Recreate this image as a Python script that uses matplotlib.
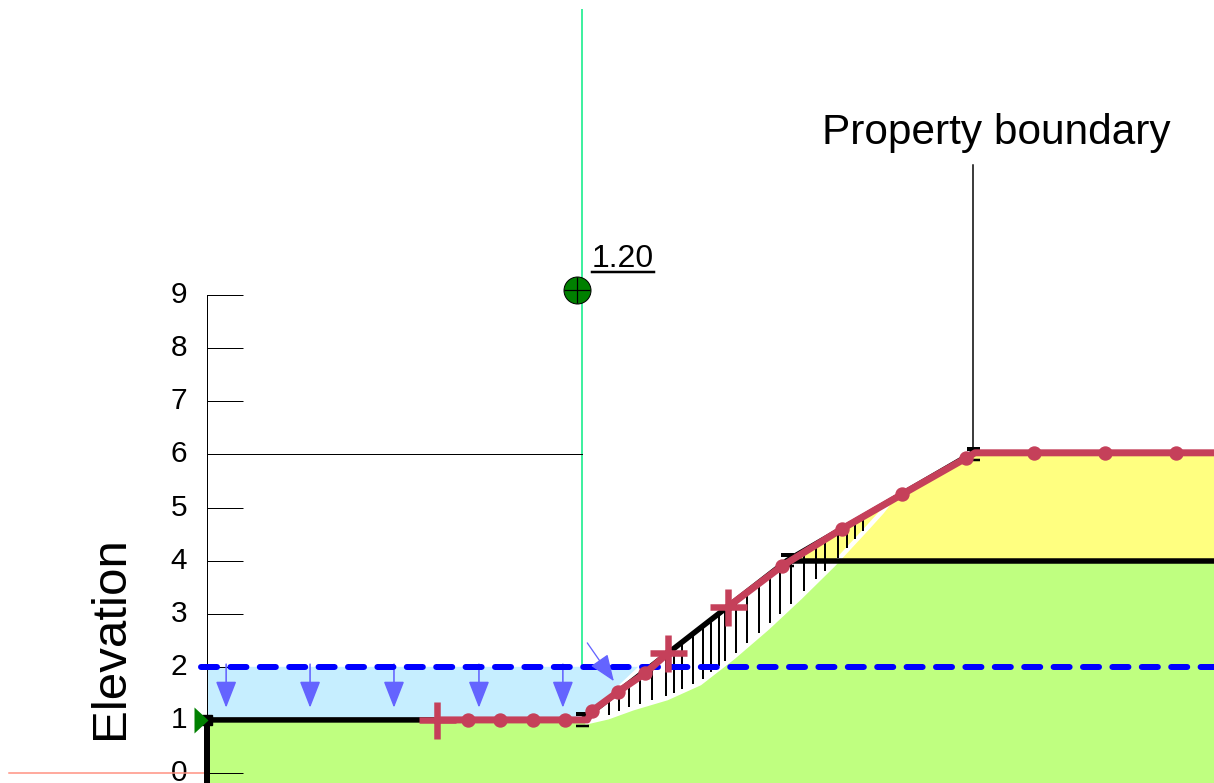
import numpy as np
import matplotlib
matplotlib.use("Agg")
import matplotlib.pyplot as plt
from matplotlib.patches import Polygon, Rectangle
from matplotlib.transforms import ScaledTranslation

plt.rcParams['font.family'] = ['Liberation Sans', 'DejaVu Sans']

# all values in metres
ground_x = np.array([0, 7.06, 10.92, 14.42, 18.96])
ground_el = np.array([1, 1, 4, 6.03, 6.03])

# red surface, broken between the two middle crosses
red_x1 = [4.33, 4.92, 5.52, 6.14, 6.74, 7.16, 7.25, 7.74, 8.25, 8.68]
red_el1 = [1.0, 1.0, 1.0, 1.0, 1.0, 1.0, 1.17, 1.53, 1.88, 2.26]
red_x2 = [9.81, 10.83, 11.96, 13.09, 14.29, 14.46, 15.57, 16.91, 18.25, 18.96]
red_el2 = [3.13, 3.90, 4.60, 5.25, 5.93, 6.03, 6.03, 6.03, 6.03, 6.03]
cross_x = [4.33, 8.68, 9.81]
cross_el = [1.0, 2.26, 3.13]
dot_x = [4.92, 5.52, 6.14, 6.74, 7.25, 7.74, 8.25, 10.83, 11.96, 13.09, 14.29, 15.57, 16.91, 18.25]
dot_el = [1.0, 1.0, 1.0, 1.0, 1.17, 1.53, 1.88, 3.90, 4.60, 5.25, 5.93, 6.03, 6.03, 6.03]

slip_x = [7.16, 7.55, 8.02, 8.66, 9.28, 9.91, 10.55, 11.17, 11.79, 12.43, 12.71, 12.85]
slip_el = [0.96, 1.05, 1.22, 1.41, 1.69, 2.18, 2.73, 3.31, 3.92, 4.61, 4.92, 5.10]

hatch_x = [7.56, 7.76, 7.95, 8.15, 8.38, 8.64, 8.79, 8.95, 9.15, 9.34, 9.49, 9.64, 9.76,
           9.96, 10.17, 10.40, 10.60, 10.79, 11.0, 11.24, 11.47, 11.64, 11.88, 12.05, 12.20, 12.35]

water_x = [0, 7.06, 8.12, 0]
water_el = [1, 1, 2, 2]
water_level = 2.0
load_x = [0.36, 1.94, 3.52, 5.12, 6.70]
node_x = [7.06, 10.92, 14.42]
node_el = [1, 4, 6.0]
el_ticks = list(range(10))
centre_x, centre_el = 6.97, 9.10
fos_label = "1.20"

# one axes over the whole figure, equal scale 53.1 px per metre
px = 72 / 100
fig = plt.figure(figsize=(12.14, 7.83), dpi=100)
ax = fig.add_axes([0, 0, 1, 1])
ax.set_xlim(-3.898, 18.96)
ax.set_ylim(-0.188, 14.557)
for s in ['top', 'right', 'bottom']:
    ax.spines[s].set_visible(False)
ax.spines['left'].set_position(('data', 0))
ax.spines['left'].set_bounds(0, 9)
ax.spines['left'].set_linewidth(1 * px)
ax.set_xticks([])
ax.set_yticks(el_ticks)
ax.tick_params(axis='y', direction='in', length=36 * px, width=1 * px, pad=20 * px, labelsize=21.5)
up = ScaledTranslation(0, 3 / 100, fig.dpi_scale_trans)
for lab in ax.get_yticklabels():
    lab.set_transform(lab.get_transform() + up)
ax.patch.set_alpha(0)

GREEN = '#BFFF80'
YELLOW = '#FFFF80'
RED = '#C5405A'
ARROW = '#6464FF'
HEAD = '-|>,head_length=1.15,head_width=0.45'

# materials and water
ax.fill_between(ground_x, -0.188, np.minimum(ground_el, 4), color=GREEN, lw=0, zorder=1)
ax.fill_between(ground_x, 4, ground_el, where=ground_el >= 4, color=YELLOW, lw=0, zorder=1)
ax.add_patch(Polygon(np.column_stack([water_x, water_el]), color='#C6EEFF', lw=0, zorder=1))

# slide mass
mass_x = list(slip_x) + [13.09, 11.96, 10.83, 9.81, 8.68, 8.25, 7.74, 7.25]
mass_el = list(slip_el) + [5.25, 4.60, 3.90, 3.13, 2.26, 1.88, 1.53, 1.17]
mass = np.column_stack([mass_x, mass_el])
ax.add_patch(Polygon(mass, color='white', lw=0, zorder=2))
top_part = Polygon(mass, color=YELLOW, lw=0, zorder=2.1)
ax.add_patch(top_part)
top_part.set_clip_path(Rectangle((0, 4), 19, 3, transform=ax.transData))
ax.plot(slip_x, slip_el, color='white', lw=4.5 * px, zorder=3)

# black lines
ax.plot(ground_x[:4], ground_el[:4], color='k', lw=5.5 * px, zorder=3, solid_capstyle='butt')
ax.plot([10.92, 18.96], [4, 4], color='k', lw=5.5 * px, zorder=3, solid_capstyle='butt')
ax.plot([0, 0], [-0.188, 1], color='k', lw=6 * px, zorder=3, solid_capstyle='butt')
ax.vlines(hatch_x, np.interp(hatch_x, slip_x, slip_el) + 0.04,
          np.interp(hatch_x, red_x1 + red_x2, red_el1 + red_el2), color='k', lw=2 * px, zorder=3.5)
ax.plot(node_x, np.array(node_el) + 0.11, ls='', marker='_', ms=13 * px, mew=4 * px, color='k', zorder=3)
ax.plot(node_x, np.array(node_el) - 0.11, ls='', marker='_', ms=13 * px, mew=2.5 * px, color='k', zorder=3)

# reference lines
ax.plot([7.06, 7.06], [2, 14.37], color='#40F0A0', lw=2 * px, zorder=2)
ax.plot([0, 7.06], [6, 6], color='k', lw=1 * px, zorder=2)
ax.plot([14.42, 14.42], [6.03, 11.45], color='k', lw=1.5 * px, zorder=2)
ax.plot([-3.73, 0], [0, 0], color='#FF9080', lw=1.5 * px, zorder=2)

# water level and arrows
ax.plot([-0.11, 18.96], [water_level, water_level], color='#0000FF', lw=6 * px, zorder=4,
        dashes=(2.67, 2.23), dash_capstyle='round')
for x0 in load_x:
    ax.annotate('', xy=(x0, 1.23), xytext=(x0, 2.05), zorder=3.6,
                arrowprops=dict(arrowstyle=HEAD, mutation_scale=20 * px, color=ARROW,
                                lw=1.6 * px, shrinkA=0, shrinkB=0))
ax.annotate('', xy=(7.66, 1.73), xytext=(7.16, 2.45), zorder=4.5,
            arrowprops=dict(arrowstyle=HEAD, mutation_scale=20 * px, color=ARROW,
                            lw=1.3 * px, shrinkA=0, shrinkB=0))

# red surface
ax.plot(red_x1, red_el1, color=RED, lw=7 * px, zorder=5, solid_capstyle='round')
ax.plot(red_x2, red_el2, color=RED, lw=7 * px, zorder=5, solid_capstyle='round')
ax.plot(dot_x, dot_el, ls='', marker='o', ms=13 * px, color=RED, zorder=5)
ax.plot(cross_x, cross_el, ls='', marker='+', ms=37 * px, mew=6.5 * px, color=RED, zorder=5)

# left end markers
ax.plot([0], [1], ls='', marker='s', ms=10 * px, color='k', zorder=6)
ax.plot([-0.11], [1], ls='', marker=[(-7, 13), (7, 0), (-7, -13)], ms=26 * px, color='#008000', mew=0, zorder=6)

# slip centre
ax.plot([centre_x], [centre_el], ls='', marker='o', ms=27 * px, mfc='#008000', mec='k', mew=1 * px, zorder=6)
ax.plot([centre_x], [centre_el], ls='', marker='+', ms=27 * px, color='k', mew=1.2 * px, zorder=7)
ax.text(7.25, 9.53, fos_label, fontsize=23, ha='left', va='baseline', color='k')
ax.plot([7.25, 8.42], [9.43, 9.43], color='k', lw=2.5 * px)

ax.text(14.86, 11.85, "Property boundary", fontsize=30.5, ha='center', va='baseline', color='k')
ax.text(-1.82, 2.55, "Elevation", fontsize=35.5, rotation=90, ha='center', va='center', color='k')

fig.savefig("out.png", dpi=100)
